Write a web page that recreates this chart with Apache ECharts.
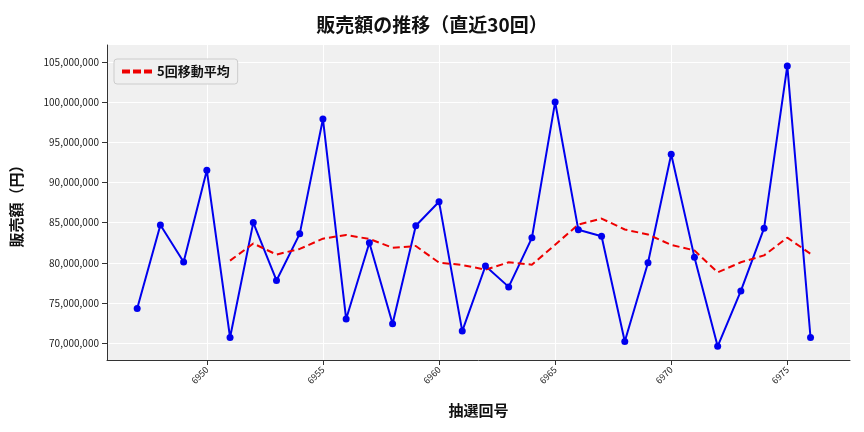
<!DOCTYPE html>
<html><head><meta charset="utf-8">
<script src="https://cdn.jsdelivr.net/npm/echarts@6/dist/echarts.min.js"></script>
<style>html,body{margin:0;padding:0;background:#fff}#c{width:864px;height:432px}</style>
</head><body><div id="c"></div>
<script>
const draws = [6947,6948,6949,6950,6951,6952,6953,6954,6955,6956,6957,6958,6959,6960,6961,6962,6963,6964,6965,6966,6967,6968,6969,6970,6971,6972,6973,6974,6975,6976];
const sales = [74.3,84.7,80.1,91.5,70.7,85.0,77.8,83.6,97.9,73.0,82.5,72.4,84.6,87.6,71.5,79.6,77.0,83.1,100.0,84.1,83.3,70.2,80.0,93.5,80.7,69.6,76.5,84.3,104.5,70.7].map(v=>v*1e6);
const ma5 = [null,null,null,null,80.26,82.4,81.02,81.72,83.0,83.46,82.96,81.88,82.08,80.02,79.72,79.14,80.06,79.76,82.24,84.76,85.5,84.14,83.52,82.22,81.54,78.8,80.06,80.92,83.12,81.12].map(v=>v==null?null:v*1e6);
const xTicks = [6950,6955,6960,6965,6970,6975];
const yTicks = [70,75,80,85,90,95,100,105].map(v=>v*1e6);
const font = '"Noto Sans CJK JP", sans-serif';
const chart = echarts.init(document.getElementById('c'));
chart.setOption({
  animation:false,
  title:{text:'販売額の推移（直近30回）',left:'center',top:10,textStyle:{fontFamily:font,fontSize:19,fontWeight:'bold',color:'#111'}},
  legend:{left:114,top:59,orient:'vertical',backgroundColor:'#f0f0f0',borderColor:'#ccc',borderWidth:1,borderRadius:3,padding:[6,8],itemWidth:30,itemHeight:4,data:[{name:'5回移動平均',icon:'path://M0,0H8V4H0Z M11,0H19V4H11Z M22,0H30V4H22Z'}],textStyle:{fontFamily:font,fontSize:13,fontWeight:'bold',color:'#111'}},
  grid:{left:107,right:14,top:45,bottom:72,show:true,backgroundColor:'#f0f0f0',borderWidth:0},
  xAxis:{type:'value',min:6945.7,max:6977.7,name:'抽選回号',nameLocation:'middle',nameGap:43,nameTextStyle:{fontFamily:font,fontSize:15,fontWeight:'bold',color:'#111'},
    axisLine:{show:true,lineStyle:{color:'#333'}},axisTick:{show:true,customValues:xTicks,lineStyle:{color:'#333'}},
    axisLabel:{customValues:xTicks,rotate:45,fontSize:9,color:'#222',fontFamily:font,formatter:v=>String(v)},
    splitLine:{show:true,lineStyle:{color:'#fff',width:1}}},
  yAxis:{type:'value',min:67.9e6,max:107.1e6,name:'販売額（円）',nameLocation:'middle',nameGap:83,nameTextStyle:{fontFamily:font,fontSize:15,fontWeight:'bold',color:'#111'},
    axisLine:{show:true,lineStyle:{color:'#333'}},axisTick:{show:true,customValues:yTicks,lineStyle:{color:'#333'}},
    axisLabel:{customValues:yTicks,fontSize:10,color:'#222',fontFamily:font,formatter:v=>Math.round(v).toLocaleString('en-US')},
    splitLine:{show:true,lineStyle:{color:'#fff',width:1}}},
  series:[
    {name:'販売額',type:'line',data:draws.map((d,i)=>[d,sales[i]]),symbol:'circle',symbolSize:7,itemStyle:{color:'#0000ee'},lineStyle:{color:'#0000ee',width:2}},
    {name:'5回移動平均',type:'line',data:draws.map((d,i)=>[d,ma5[i]]),showSymbol:false,symbol:'none',itemStyle:{color:'#ee0000'},lineStyle:{color:'#ee0000',width:2,type:[7,4]}}
  ]
});
</script></body></html>
